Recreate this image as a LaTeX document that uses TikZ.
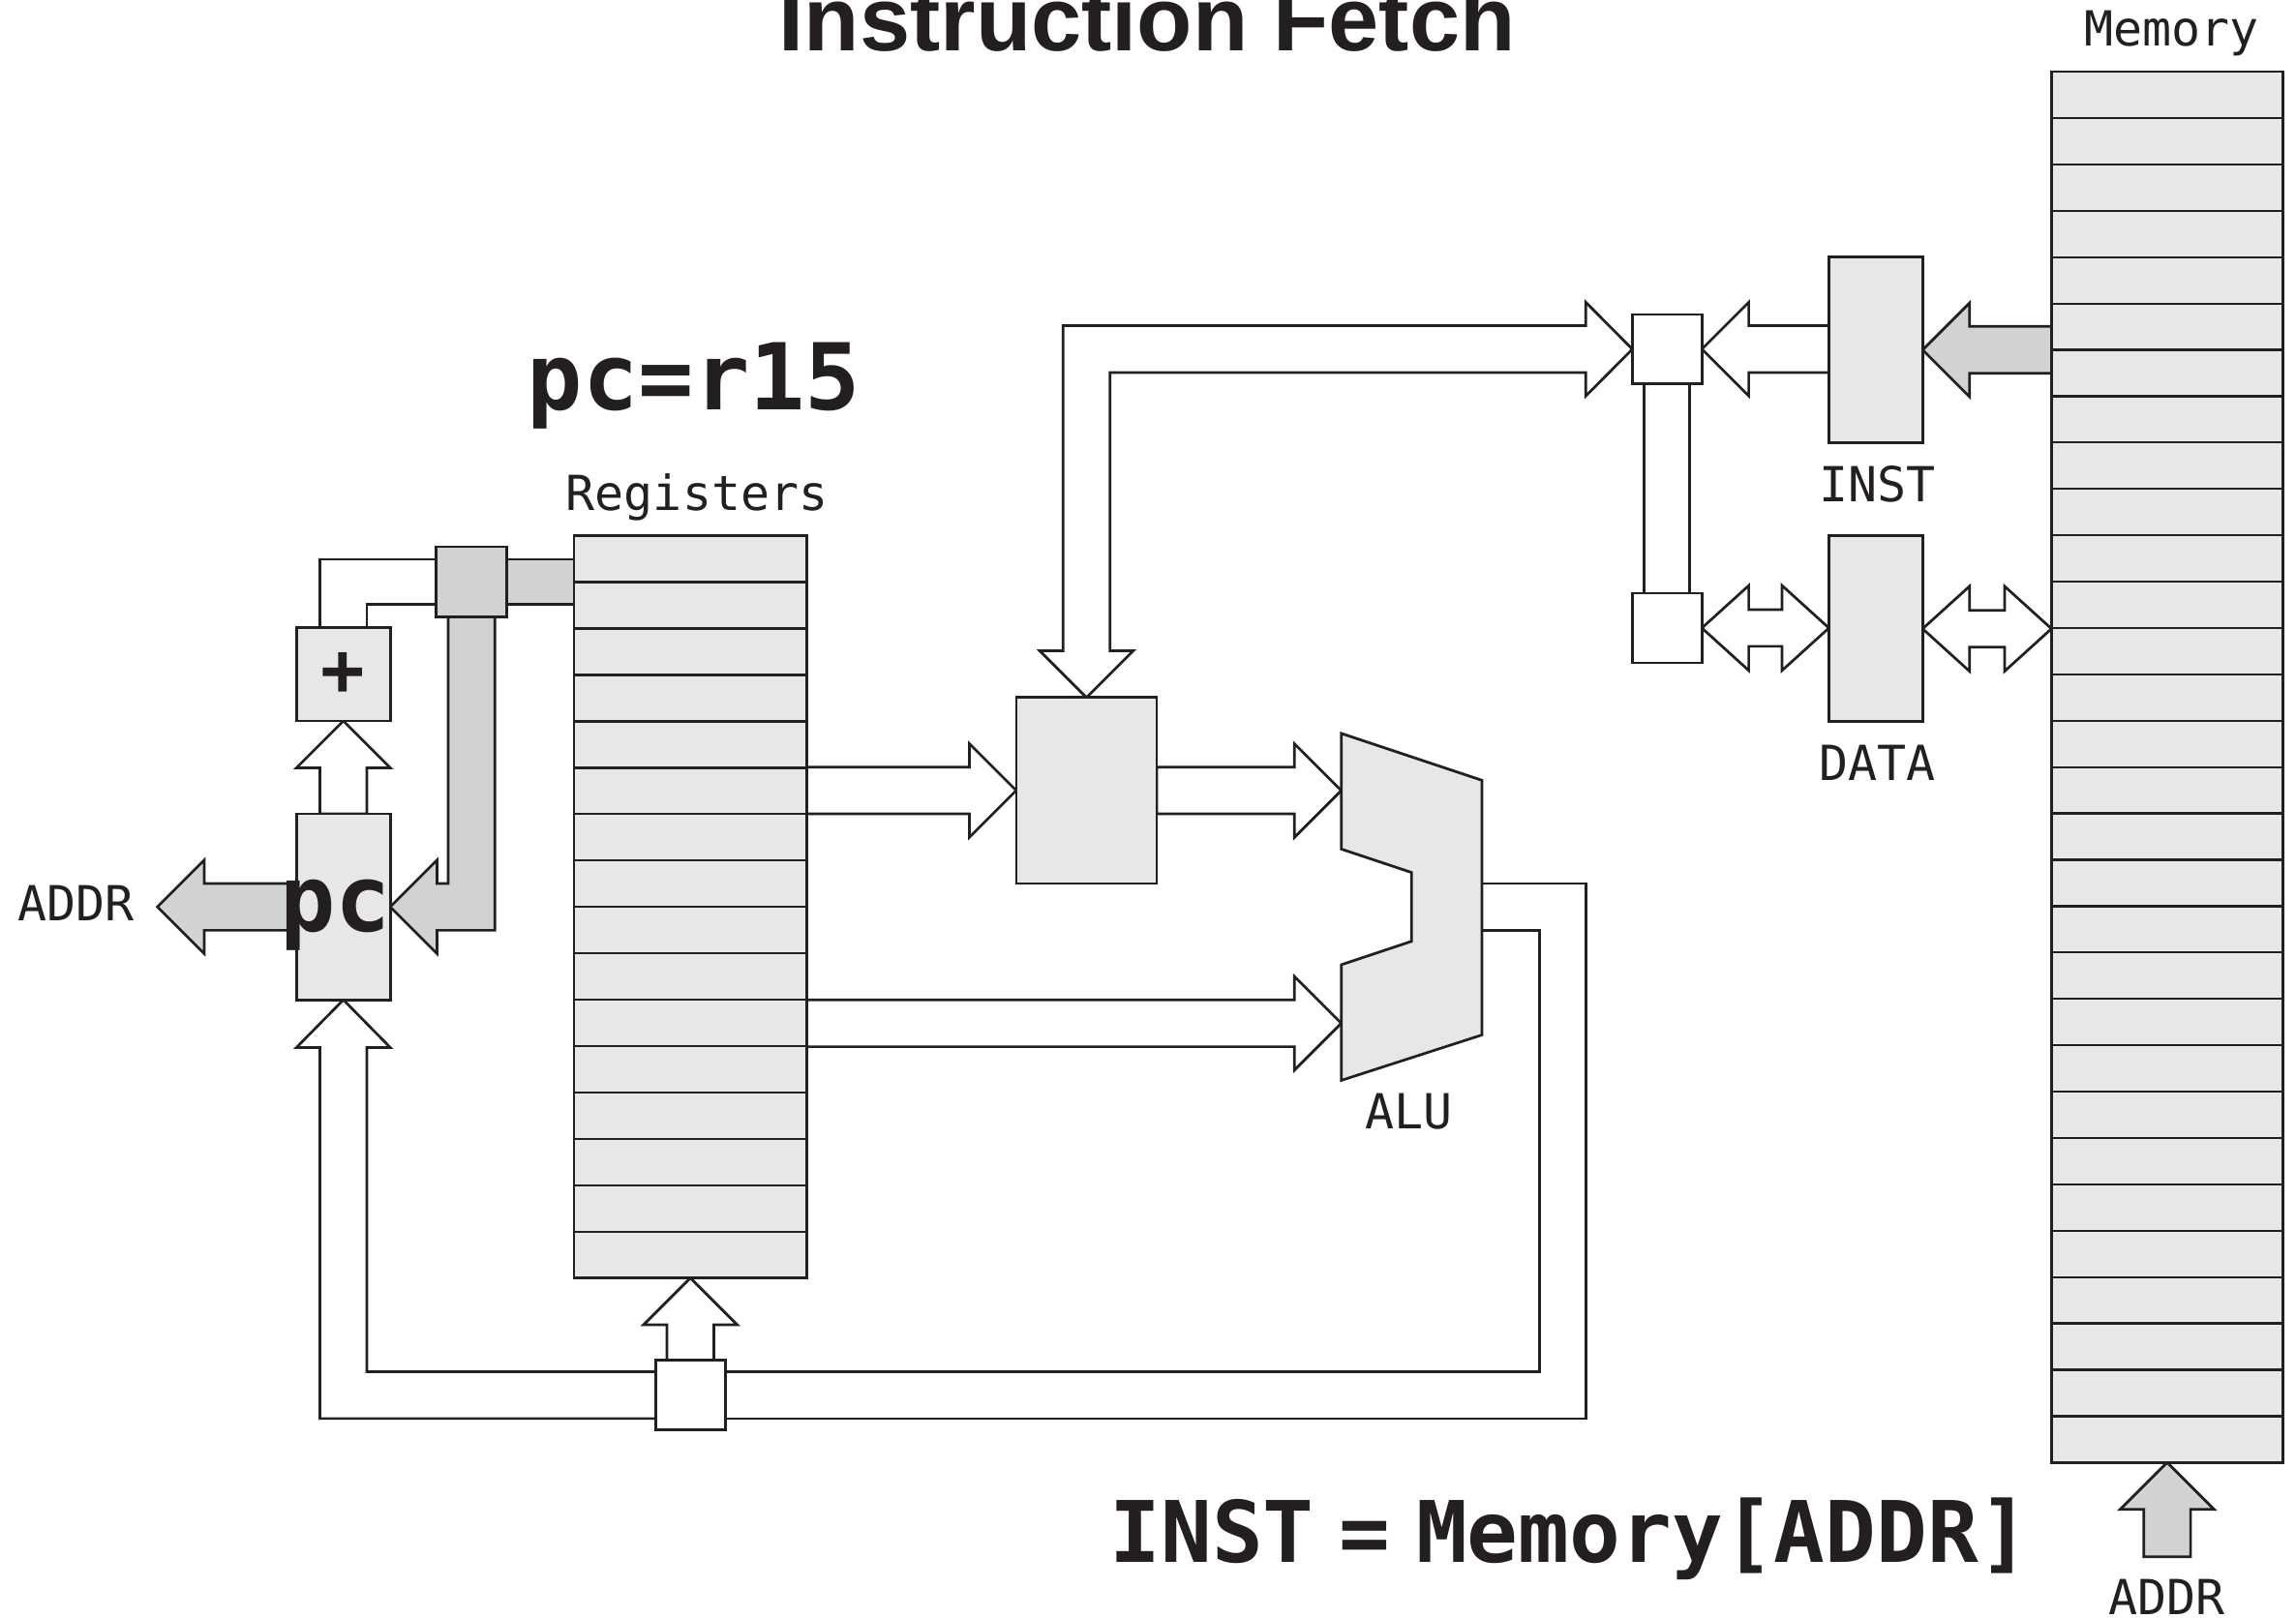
\documentclass[tikz,border=0pt]{standalone}
\usepackage{fontspec}
\usetikzlibrary{backgrounds}
\newfontfamily\labelfont{DejaVu Sans Mono}
\newfontfamily\titlefont{Liberation Sans}
\definecolor{ink}{HTML}{231F20}
\definecolor{boxfill}{HTML}{E6E7E6}
\definecolor{busfill}{HTML}{D1D2D4}
\newcommand{\busarrow}[4]{\path[#1, shift={(#2)}, rotate=#3] (0,0) -- (-32,32) -- (-32,16) -- (-#4,16) -- (-#4,-16) -- (-32,-16) -- (-32,-32) -- cycle;}
\newcommand{\dblarrow}[2]{\path[hollow, shift={(#1)}] (0,0) -- (32,-29) -- (32,-12.5) -- (#2-32,-12.5) -- (#2-32,-29) -- (#2,0) -- (#2-32,29) -- (#2-32,12.5) -- (32,12.5) -- (32,29) -- cycle;}

\begin{document}
\begin{tikzpicture}[x=1pt, y=-1pt, line width=1.8pt, color=ink]
    \tikzset{box/.style={draw, fill=boxfill, inner sep=0pt, outer sep=0pt},
        selbox/.style={box, fill=white, minimum size=47.5},
        hollow/.style={draw=ink, fill=white, line width=1.8pt},
        solid/.style={draw=ink, fill=busfill, line width=1.8pt},
        lbl/.style={anchor=base, inner sep=0pt, font=\labelfont\fontsize{33}{33}\selectfont},
        big/.style={anchor=base, inner sep=0pt, font=\labelfont\bfseries\fontsize{63}{63}\selectfont}
    }
    \useasboundingbox (0,0) rectangle (1568,1105);

    \node (regs) [box, minimum width=159, minimum height=507] at (471.5, 619.5) {};
    \node (mem) [box, minimum width=158, minimum height=950] at (1480, 524) {};
    \node (pc) [box, minimum width=64, minimum height=127] at (234.5, 619.5) {};
    \node (add) [box, minimum size=64] at (234.5, 460.5) {};
    \node (pcsel) [box, fill=busfill, minimum size=48] at (322, 397.5) {};
    \node (opsel) [box, minimum width=96, minimum height=127] at (742, 540) {};
    \node (isel) [selbox] at (1138.5, 238.5) {};
    \node (dsel) [selbox] at (1138.5, 429) {};
    \node (wsel) [selbox] at (471.5, 953) {};
    \node (inst) [box, minimum width=64, minimum height=127] at (1281, 239) {};
    \node (data) [box, minimum width=64, minimum height=127] at (1281, 429.5) {};

    \foreach \i in {1,...,15}
        \draw [line width=1.5pt] ([yshift=-\i*31.69]regs.north west) -- ([yshift=-\i*31.69]regs.north east);
    \foreach \i in {1,...,29}
        \draw [line width=1.5pt] ([yshift=-\i*31.667]mem.north west) -- ([yshift=-\i*31.667]mem.north east);

    \draw [fill=boxfill] (916,501) -- (1012,533) -- (1012,707) -- (916,738) -- (916,659) -- (964,643) -- (964,596) -- (916,580) -- cycle;
    \coordinate (aluA) at (916, 540);
    \coordinate (aluB) at (916, 699);
    \coordinate (addrL) at (107.5, 619.5);

    \begin{scope}[on background layer, line width=1.8pt, color=ink]
        \busarrow{hollow}{opsel.west}{0}{143}
        \busarrow{hollow}{aluA}{0}{126}
        \busarrow{hollow}{aluB}{0}{365}
        \busarrow{hollow}{add.south}{90}{63.5}
        \busarrow{hollow}{regs.south}{90}{56}
        \busarrow{solid}{addrL}{180}{95}
        \busarrow{hollow}{isel.east}{180}{86.75}
        \busarrow{solid}{inst.east}{180}{88}
        \busarrow{solid}{mem.south}{90}{64.5}
        \dblarrow{dsel.east}{86.75}
        \dblarrow{data.east}{88}

        \path [solid] (392,382) -- (346,382) -- (346,413) -- (392,413);
        \path [solid] (306,421.5) -- (306,603.5) -- (298.5,603.5) -- (298.5,587.5) -- (pc.east) -- (298.5,651.5) -- (298.5,635.5) -- (338,635.5) -- (338,421.5);
        \path [hollow] (298,413) -- (250.5,413) -- (250.5,428.5) -- (218.5,428.5) -- (218.5,382) -- (298,382);
        \path [hollow] (isel.west) -- (1083,206.5) -- (1083,222.5) -- (726,222.5) -- (726,444.5) -- (710,444.5) -- (opsel.north) -- (774,444.5) -- (758,444.5) -- (758,254.5) -- (1083,254.5) -- (1083,270.5) -- cycle;
        \draw [draw=ink, line width=1.8pt] ([xshift=-15.5]isel.south) -- ([xshift=-15.5]dsel.north) ([xshift=15.5]isel.south) -- ([xshift=15.5]dsel.north);
        \path [hollow] (448,937) -- (250.5,937) -- (250.5,715.5) -- (266.5,715.5) -- (pc.south) -- (202.5,715.5) -- (218.5,715.5) -- (218.5,969) -- (448,969);
        \path [hollow] (495,937) -- (1051.5,937) -- (1051.5,635.5) -- (1012,635.5) -- (1012,603.5) -- (1083,603.5) -- (1083,969) -- (495,969);
    \end{scope}

    \node (title) [anchor=base, inner sep=0pt, font=\titlefont\bfseries\fontsize{62}{62}\selectfont] at (783.5, 35) {Instruction Fetch};
    \node (alias) [big] at (474, 280) {pc=r15};
    \node (pclbl) [big] at (229, 636) {pc};
    \node (plus) [font=\labelfont\bfseries\fontsize{50}{50}\selectfont] at (add) {+};
    \node (eqn) [big, font=\labelfont\bfseries\fontsize{58}{58}\selectfont] at (1072, 1067) {INST\hspace{.3em}=\hspace{.3em}Memory[ADDR]};
    \node (regslbl) [lbl] at (476, 349) {Registers};
    \node (memlbl) [lbl] at (1483, 31.5) {Memory};
    \node (instlbl) [lbl] at (1282, 343) {INST};
    \node (datalbl) [lbl] at (1282, 533) {DATA};
    \node (alulbl) [lbl] at (962, 771) {ALU};
    \node (addrlbl) [lbl] at (52, 629) {ADDR};
    \node (maddrlbl) [lbl] at (1480, 1103) {ADDR};
\end{tikzpicture}
\end{document}
